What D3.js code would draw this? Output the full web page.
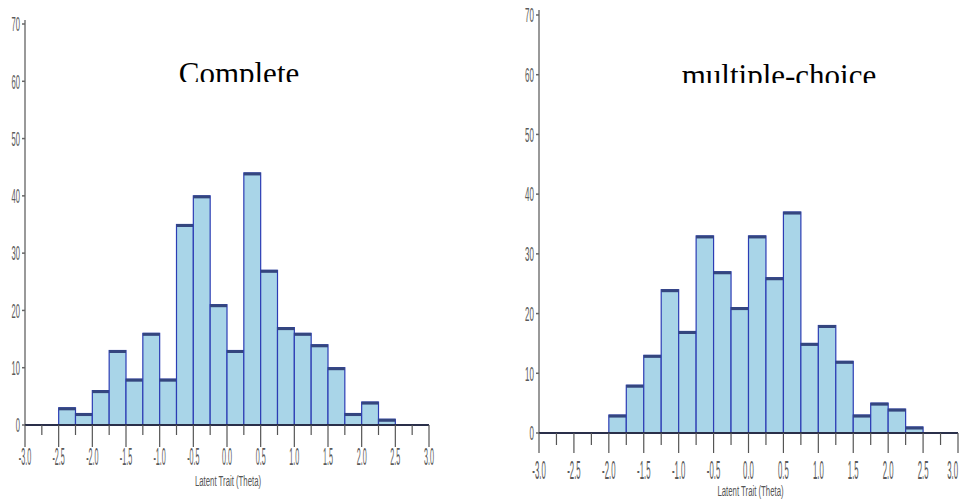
<!DOCTYPE html>
<html><head><meta charset="utf-8">
<script src="https://cdn.jsdelivr.net/npm/d3@7"></script>
<style>html,body{margin:0;padding:0;background:#fff;}svg{display:block;}</style>
</head><body>
<svg id="chart" width="959" height="502"></svg>
<script>
// ---- data ----
const binStarts = [-2.5,-2.25,-2.0,-1.75,-1.5,-1.25,-1.0,-0.75,-0.5,-0.25,0.0,0.25,0.5,0.75,1.0,1.25,1.5,1.75,2.0,2.25];
const binWidth = 0.25;
const completeCounts = [3,2,6,13,8,16,8,35,40,21,13,44,27,17,16,14,10,2,4,1];
const mcStarts = [-2.0,-1.75,-1.5,-1.25,-1.0,-0.75,-0.5,-0.25,0.0,0.25,0.5,0.75,1.0,1.25,1.5,1.75,2.0,2.25];
const mcCounts = [3,8,13,24,17,33,27,21,33,26,37,15,18,12,3,5,4,1];
const yTicks = [0,10,20,30,40,50,60,70];
const xMajorTicks = [-3.0,-2.5,-2.0,-1.5,-1.0,-0.5,0.0,0.5,1.0,1.5,2.0,2.5,3.0];
const xMinorTicks = [-2.75,-2.25,-1.75,-1.25,-0.75,-0.25,0.25,0.75,1.25,1.75,2.25,2.75];
const titles = ["Complete","multiple-choice"];
const xAxisTitle = "Latent Trait (Theta)";

const W = 959;
const svg = d3.select("#chart");

const panels = [
  {starts: binStarts, counts: completeCounts, title: titles[0],
   xr:[25,429], yr:[425,24], axisTop:20, majorLen:22, minorLen:10,
   tickLabY:457, labFs:24, ylabFs:20, titleX:239, titleBase:84, titleClip:82, axTitleY:481},
  {starts: mcStarts, counts: mcCounts, title: titles[1],
   xr:[539,958], yr:[433,15], axisTop:10, majorLen:20, minorLen:12,
   tickLabY:470, labFs:26, ylabFs:21, titleX:779, titleBase:86, titleClip:83, axTitleY:491}
];

function narrowText(g, x, y, txt, fs, sx, anchor, color){
  return g.append("text")
    .attr("transform", `translate(${x},${y}) scale(${sx},1)`)
    .attr("text-anchor", anchor)
    .attr("dominant-baseline", "central")
    .attr("font-family", "'Liberation Sans', Arial, sans-serif")
    .attr("font-size", fs)
    .attr("fill", color)
    .text(txt);
}

panels.forEach((p, i) => {
  const x = d3.scaleLinear().domain([-3,3]).range(p.xr);
  const y = d3.scaleLinear().domain([0,70]).range(p.yr);
  const g = svg.append("g");
  const base = y(0);

  // title (clipped at bottom as in reference)
  const cid = "clipT" + i;
  svg.append("clipPath").attr("id", cid).append("rect")
    .attr("x", p.titleX - 150).attr("y", 0).attr("width", 300).attr("height", p.titleClip);
  g.append("text")
    .attr("clip-path", `url(#${cid})`)
    .attr("x", p.titleX).attr("y", p.titleBase)
    .attr("text-anchor", "middle")
    .attr("font-family", "'Liberation Serif', 'Times New Roman', serif")
    .attr("font-size", 31)
    .attr("fill", "#000")
    .text(p.title);

  // y axis line
  g.append("line")
    .attr("x1", x(-3)).attr("x2", x(-3))
    .attr("y1", p.axisTop).attr("y2", base)
    .attr("stroke", "#777").attr("stroke-width", 1.5);
  yTicks.forEach(t => {
    g.append("line")
      .attr("x1", x(-3) - 3).attr("x2", x(-3))
      .attr("y1", y(t)).attr("y2", y(t))
      .attr("stroke", "#666").attr("stroke-width", 1.5);
    narrowText(g, x(-3) - 5, y(t), String(t), p.ylabFs, 0.38, "end", "#5a5a5a");
  });

  // bars
  p.starts.forEach((s, k) => {
    const c = p.counts[k];
    const x0 = x(s), x1 = x(s + binWidth);
    g.append("rect")
      .attr("x", x0).attr("y", y(c))
      .attr("width", x1 - x0).attr("height", base - y(c))
      .attr("fill", "#a9d5e8")
      .attr("stroke", "#2c3cb4").attr("stroke-width", 1.2);
    g.append("line")
      .attr("x1", x0).attr("x2", x1)
      .attr("y1", y(c) + 1).attr("y2", y(c) + 1)
      .attr("stroke", "#34467e").attr("stroke-width", 3);
  });

  // x axis baseline
  g.append("line")
    .attr("x1", x(-3)).attr("x2", x(3))
    .attr("y1", base).attr("y2", base)
    .attr("stroke", "#2a2f4a").attr("stroke-width", 2.2);

  // ticks
  xMajorTicks.forEach(t => {
    g.append("line")
      .attr("x1", x(t)).attr("x2", x(t))
      .attr("y1", base).attr("y2", base + p.majorLen)
      .attr("stroke", "#555").attr("stroke-width", 1.2);
    const px = x(t);
    // keep edge label inside the picture
    if (px + 8 > W) {
      narrowText(g, W - 1, p.tickLabY, t.toFixed(1), p.labFs, 0.3, "end", "#5a5a5a");
    } else {
      narrowText(g, px, p.tickLabY, t.toFixed(1), p.labFs, 0.3, "middle", "#5a5a5a");
    }
  });
  xMinorTicks.forEach(t => {
    g.append("line")
      .attr("x1", x(t)).attr("x2", x(t))
      .attr("y1", base).attr("y2", base + p.minorLen)
      .attr("stroke", "#555").attr("stroke-width", 1.2);
  });

  // x axis title
  narrowText(g, (x(-0.5) + x(0.5)) / 2 + (i === 0 ? 1 : 2), p.axTitleY, xAxisTitle, 15, 0.52, "middle", "#555");
});
</script>
</body></html>
